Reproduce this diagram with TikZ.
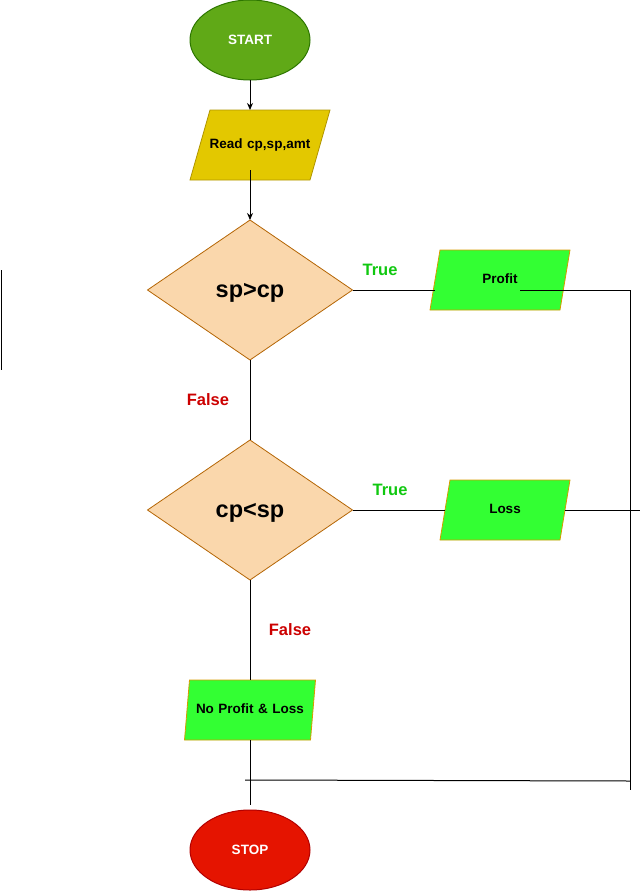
\documentclass[tikz,border=0pt]{standalone}
\usepackage{fontspec}
\setmainfont{Liberation Sans}
\usetikzlibrary{shapes.geometric,arrows.meta}

\definecolor{startfill}{HTML}{60A917}
\definecolor{startline}{HTML}{2D7600}
\definecolor{readfill}{HTML}{E3C800}
\definecolor{readline}{HTML}{B09500}
\definecolor{testfill}{HTML}{FAD7AC}
\definecolor{testline}{HTML}{B46504}
\definecolor{outfill}{HTML}{33FF33}
\definecolor{outline}{HTML}{D79B00}
\definecolor{stopfill}{HTML}{E51400}
\definecolor{stopline}{HTML}{B20000}
\definecolor{truecol}{HTML}{10C810}
\definecolor{falsecol}{HTML}{CC0000}

\begin{document}
\begin{tikzpicture}[x=1pt,y=-1pt,line width=1pt,
		small/.style={font=\bfseries\fontsize{13.5}{16}\selectfont},
		term/.style={ellipse,minimum width=120pt,minimum height=80pt,inner sep=0pt,outer sep=0pt,small,text=white},
		io/.style={trapezium,outer sep=0pt,inner xsep=0pt,text height=9pt,text depth=3pt,align=center,small,line width=0.8pt},
		test/.style={diamond,minimum width=205pt,minimum height=140pt,inner sep=0pt,outer sep=0pt,text height=20pt,text depth=5pt,fill=testfill,draw=testline,line width=0.8pt,font=\bfseries\fontsize{23.5}{28}\selectfont},
		yes/.style={text=truecol,font=\bfseries\fontsize{16.5}{20}\selectfont},
		no/.style={text=falsecol,font=\bfseries\fontsize{16.5}{20}\selectfont},
		arr/.style={-{Stealth[length=7pt,width=6pt]}}]
		\useasboundingbox (0,0) rectangle (642,891);

		\node[term,fill=startfill,draw=startline] (start) at (250,40) {START};
		\node[io,fill=readfill,draw=readline,text width=112pt,inner xsep=-6pt,inner ysep=29pt,trapezium left angle=74.05,trapezium right angle=105.95] (read) at (260,145) {Read cp,sp,amt};
		\draw[arr] (start.south) -- (start.south |- read.north);

		\node[test] (spcp) at (250,290) {sp>cp};
		\draw[arr] ([yshift=10pt]spcp.north |- read.south) -- (spcp.north);

		\node[io,fill=outfill,draw=outline,text width=120pt,inner ysep=24pt,trapezium left angle=80.54,trapezium right angle=99.46] (profit) at (500,280) {Profit};
		\draw (spcp.east) -- (spcp.east -| profit.west);
		\node[yes] (t1) at (380,270) {True};

		\node[test] (cpsp) at (250,510) {cp<sp};
		\draw (spcp.south) -- (cpsp.north);
		\node[no] (f1) at (208,400) {False};

		\node[io,fill=outfill,draw=outline,text width=110pt,inner ysep=24pt,trapezium left angle=80.54,trapezium right angle=99.46] (loss) at (505,510) {Loss};
		\draw (cpsp.east) -- (cpsp.east -| loss.west);
		\node[yes] (t2) at (390,490) {True};

		\node[io,fill=outfill,draw=outline,text width=121pt,inner ysep=24pt,trapezium left angle=85.24,trapezium right angle=94.76] (none) at (250,710) {No Profit \& Loss};
		\draw (cpsp.south) -- (none.north);
		\node[no] (f2) at (290,630) {False};

		\node[term,fill=stopfill,draw=stopline] (stop) at (250,850) {STOP};
		\draw (none.south) -- ([yshift=5pt]stop.north);

		\coordinate (join) at (630,781);
		\coordinate (joinend) at (630,790);
		\coordinate (left) at (245,780);
		\coordinate (rim) at (640,510);
		\draw ([xshift=20pt,yshift=-10pt]profit.center) -| (joinend);
		\draw (loss.east) -- (loss.east -| rim);
		\draw (left) -- (join);

		\coordinate (mark1) at (1,270);
		\coordinate (mark2) at (1,370);
		\draw (mark1) -- (mark2);
	\end{tikzpicture}
\end{document}
